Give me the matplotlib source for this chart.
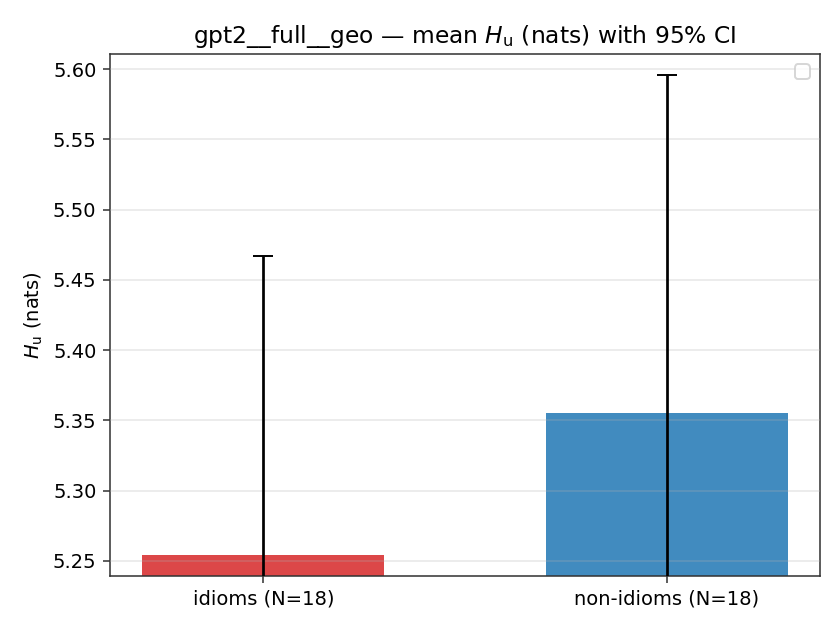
import matplotlib
matplotlib.use("Agg")
import matplotlib.pyplot as plt

categories = ["idioms (N=18)", "non-idioms (N=18)"]
means = [5.2543, 5.3553]
ci_upper = [5.4669, 5.5957]
colors = ["#d62728", "#1f77b4"]
yticks = [5.25, 5.30, 5.35, 5.40, 5.45, 5.50, 5.55, 5.60]

err = [u - m for u, m in zip(ci_upper, means)]

fig, ax = plt.subplots(figsize=(6, 4.5), dpi=140)
x = list(range(len(categories)))
ax.bar(x, means, width=0.6, color=colors, alpha=0.85, zorder=2)
ax.errorbar(x, means, yerr=err, fmt="none", ecolor="black", elinewidth=1.4,
            capsize=5, capthick=1.0, zorder=3)
ax.set_xticks(x)
ax.set_xticklabels(categories)
ax.set_yticks(yticks)
ax.set_ylim(5.2393, 5.6107)
ax.set_xlim(-0.38, 1.38)
ax.yaxis.grid(True, color="#b0b0b0", alpha=0.3, linewidth=0.8, zorder=4)
ax.set_axisbelow(False)
ax.set_ylabel(r"$H_{\mathrm{u}}$ (nats)")
ax.set_title(r"gpt2__full__geo — mean $H_{\mathrm{u}}$ (nats) with 95% CI", fontsize=12)
for s in ax.spines.values():
    s.set_color("#333333")
ax.tick_params(colors="#333333", labelcolor="black")
ax.legend(loc="upper right")
fig.subplots_adjust(left=0.131, right=0.976, top=0.914, bottom=0.086)
fig.savefig("out.png", dpi=140)
